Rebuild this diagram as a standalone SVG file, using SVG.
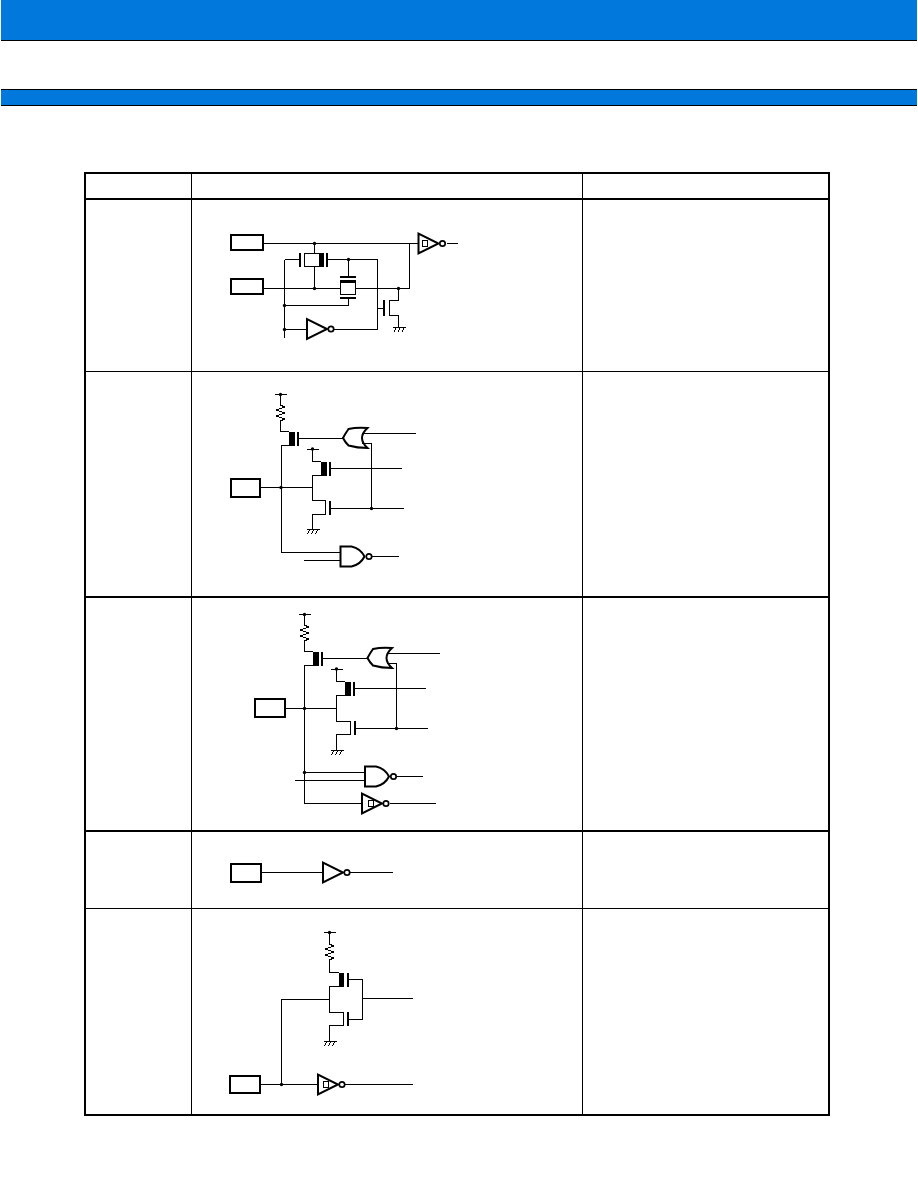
<svg xmlns="http://www.w3.org/2000/svg" width="918" height="1188" viewBox="0 0 918 1188">
<style>
.w{fill:none;stroke:#000;stroke-width:1;shape-rendering:crispEdges}
.g{fill:none;stroke:#000;stroke-width:2}
.b{fill:#fff;stroke:#000;stroke-width:2;shape-rendering:crispEdges}
.band{fill:#0078dc;shape-rendering:crispEdges}
.k{fill:#000;shape-rendering:crispEdges}
.d{fill:#000}
</style>
<defs>
<circle id="dot" r="1.7" class="d"/>
<g id="gnd"><path class="w" d="M-6,0.5H7"/><path class="w" d="M-3,1L-5,5M1,1L-1,5M5,1L3,5"/></g>
<g id="vcc"><path class="w" d="M-6,0H6.500"/><circle r="1.700" class="d"/></g>
<path id="res" class="w" d="M0,0L4,2L-4,5L4,8L-4,11L4,14L0,16"/>
<g id="inv"><path class="g" d="M0,-10V10L20,0Z"/><circle cx="24" r="2.700" fill="#fff" stroke="#000" stroke-width="1.700"/></g>
<rect id="sch" x="0" y="-3" width="5" height="6" fill="none" stroke="#000" stroke-width="1" shape-rendering="crispEdges"/>
<g id="nand"><path class="g" d="M0,-10H11Q20,-8 24,0Q20,8 11,10H0Z"/><circle cx="28.500" r="2.700" fill="#fff" stroke="#000" stroke-width="1.700"/></g>
<path id="or" class="g" d="M5.500,-9Q14,-11 24.500,-10Q19,-5 19,0Q19,5 24.500,10Q14,10 5.500,7.500Q2,4 0,0Q2,-4 5.500,-9Z"/>
<g id="pmos"><rect x="0" y="0" width="5.500" height="14" class="k"/><rect x="8" y="0" width="2" height="14" class="k"/></g>
<g id="nmos"><rect x="-0.500" y="0" width="1" height="14" class="k"/><rect x="3.500" y="0" width="2" height="14" class="k"/></g>
</defs>

<g id="header-bands">
<rect class="band" x="1" y="0" width="916" height="40"/><rect class="k" x="1" y="40" width="916" height="1"/>
<rect class="band" x="1" y="89" width="916" height="17"/><rect class="k" x="1" y="89" width="916" height="1"/><rect class="k" x="1" y="105" width="916" height="1"/>
</g>

<g id="table" fill="none" stroke="#000" shape-rendering="crispEdges">
<rect x="85" y="173" width="744" height="942" stroke-width="2"/>
<path stroke-width="2" d="M85,199H829M85,597H829M85,831H829"/>
<path stroke-width="1" d="M85,371.500H829M85,908.500H829M191.500,173V1115M582.500,173V1115"/>
</g>

<g id="connectors">
<path class="w" d="M263,243.500H418M314.500,243.500V253M314.500,267V288.500M263,288.500H340M356,288.500H409.500V243.500"/>
<path class="w" d="M284.500,259.500H300M284.500,259.500V338M327,259.500H377.500V329.500H334M348.500,259.500V277M348.500,298V305.500H284.500M284.500,329.500H307"/>
<path class="w" d="M398.500,288.500V300.500H389.500V315.500H398.500V327M377.500,308.500H384M447,243.500H458"/>
<path class="w" d="M280.500,394V405M280.500,421V431.500H289M289,445.500H281V552.500H340M298,438.500H343M362,433.500H416M362,443.500H371.500V508.500"/>
<path class="w" d="M260,487.500H312.500M312.500,449V461.500H321M321,475.500H312.500V500.500H326M326,514.500H312.500V529M330,468.500H402M330,508.500H404M304,560.500H340M372,556.500H399"/>
<path class="w" d="M304.500,614V625M304.500,641V651.500H313M313,665.500H304.500V803.500H361M322,658.500H367M387,653.500H440M387,663.500H396.500V728.500"/>
<path class="w" d="M285,708.500H336.500M336.500,669V681.500H345M345,695.500H336.500V721.500H350M350,734.500H336.500V750M354,688.500H426M354,728.500H428M304.500,772.500H365M295,780.500H365M396,776.500H423M390,803.500H436"/>
<path class="w" d="M261,872.500H322M350,872.500H393"/>
<path class="w" d="M329.500,932V944M329.500,960V972.500H339M339,986.500H329.500V1012.500H343M343,1025.500H329.500V1041M329.500,999.500H281.500V1084.500M347,979.500H362.500V1019.500H347M362.500,998.500H413"/>
<path class="w" d="M260,1084.500H317M345,1084.500H413"/>
</g>

<g id="row1-pin-a"><rect class="b" x="231" y="235" width="32" height="15"/></g>
<g id="row1-pin-b"><rect class="b" x="231" y="279" width="32" height="15"/></g>
<g id="row1-oscillator">
<rect class="k" x="299" y="253" width="2" height="14"/>
<rect x="304.500" y="253.500" width="19" height="13" fill="#fff" stroke="#000" stroke-width="1" shape-rendering="crispEdges"/>
<rect class="k" x="319" y="253" width="5" height="14"/>
<rect class="k" x="326" y="253" width="2" height="14"/>
<rect class="k" x="340" y="276" width="16" height="2"/>
<rect x="340.500" y="280.500" width="15" height="14" fill="#fff" stroke="#000" stroke-width="1" shape-rendering="crispEdges"/>
<rect class="k" x="340" y="280" width="16" height="3"/>
<rect class="k" x="340" y="297" width="16" height="2"/>
<use href="#dot" x="314.500" y="243.500"/><use href="#dot" x="314.500" y="288.500"/><use href="#dot" x="348.500" y="259.500"/><use href="#dot" x="284.500" y="305.500"/><use href="#dot" x="284.500" y="329.500"/><use href="#dot" x="398.500" y="288.500"/>
</g>
<g id="row1-inverter"><use href="#inv" x="307" y="329"/></g>
<g id="row1-schmitt"><use href="#inv" x="418.500" y="243.500"/><use href="#sch" x="422" y="243.500"/></g>
<g id="row1-nmos"><rect class="k" x="383" y="300" width="2" height="15.500"/><use href="#gnd" x="399" y="327"/></g>

<g id="row2-pin"><rect class="b" x="231" y="479" width="29" height="18"/></g>
<g id="row2-pullup"><use href="#vcc" x="280.500" y="394.500"/><use href="#res" x="280.500" y="405"/><use href="#pmos" x="289" y="431.500"/></g>
<g id="row2-or"><use href="#or" x="343" y="438"/></g>
<g id="row2-driver"><use href="#vcc" x="312.500" y="449"/><use href="#pmos" x="321" y="461.500"/><use href="#nmos" x="325.500" y="500.500"/><use href="#gnd" x="312.500" y="529"/></g>
<g id="row2-nand"><use href="#nand" x="340.500" y="556.500"/></g>
<g id="row2-dots"><use href="#dot" x="281" y="487.500"/><use href="#dot" x="371.500" y="508.500"/></g>

<g id="row3-pin"><rect class="b" x="255" y="699" width="30" height="18"/></g>
<g id="row3-pullup"><use href="#vcc" x="304.500" y="614.500"/><use href="#res" x="304.500" y="625"/><use href="#pmos" x="313" y="651.500"/></g>
<g id="row3-or"><use href="#or" x="367.500" y="658"/></g>
<g id="row3-driver"><use href="#vcc" x="336.500" y="669"/><use href="#pmos" x="345" y="681.500"/><use href="#nmos" x="350" y="721"/><use href="#gnd" x="336.500" y="750"/></g>
<g id="row3-nand"><use href="#nand" x="365" y="776.500"/></g>
<g id="row3-schmitt"><use href="#inv" x="362" y="803.500"/><use href="#sch" x="368" y="803.500"/></g>
<g id="row3-dots"><use href="#dot" x="304.500" y="708.500"/><use href="#dot" x="304.500" y="772.500"/><use href="#dot" x="396.500" y="728.500"/></g>

<g id="row4-pin"><rect class="b" x="231" y="864" width="30" height="18"/></g>
<g id="row4-inverter"><use href="#inv" x="323" y="872.500"/></g>

<g id="row5-pin"><rect class="b" x="230" y="1076" width="30" height="17"/></g>
<g id="row5-driver"><use href="#vcc" x="329.500" y="932.500"/><use href="#res" x="329.500" y="944"/><use href="#pmos" x="338.500" y="972.500"/><use href="#nmos" x="343" y="1012"/><use href="#gnd" x="329.500" y="1041"/></g>
<g id="row5-schmitt"><use href="#inv" x="318" y="1084.500"/><use href="#sch" x="323" y="1084.500"/></g>
<g id="row5-dots"><use href="#dot" x="281.500" y="1084.500"/></g>
</svg>
